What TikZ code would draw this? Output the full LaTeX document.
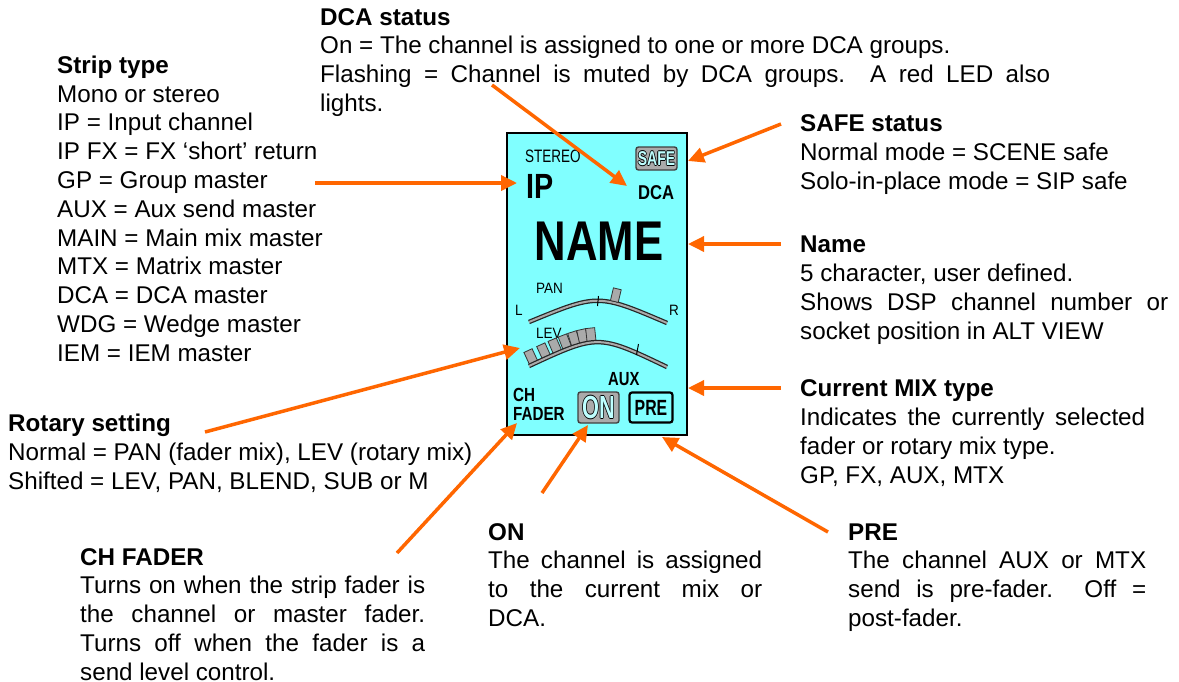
\documentclass[tikz,border=0pt]{standalone}
\usepackage{fontspec}
\setmainfont{Liberation Sans}
\usetikzlibrary{arrows.meta}
\definecolor{arrowor}{RGB}{255,102,0}
\definecolor{lcdcyan}{RGB}{128,255,255}
\definecolor{btngrey}{RGB}{170,170,170}
\definecolor{ltfill}{RGB}{190,255,255}
\newcommand\outl[1]{\leavevmode\rlap{\kern-0.8pt#1}\rlap{\kern0.8pt#1}\rlap{\raisebox{0.8pt}{#1}}\rlap{\raisebox{-0.8pt}{#1}}{\color{ltfill}#1}}
\newcommand\cond[3]{\scalebox{#1}[1]{\fontsize{#2}{#2}\selectfont #3}}
\tikzset{
  txt/.style={anchor=base west, align=left, inner sep=0pt, font=\fontsize{24.2}{28.8}\selectfont},
  arr/.style={draw=arrowor, line width=3.5pt, -{Triangle[length=16pt,width=15pt]}},
  lbl/.style={anchor=base west, inner sep=0pt},
  bar/.style={draw=black!80, fill=btngrey, line width=0.8pt, minimum width=9pt, minimum height=14pt, inner sep=0pt, sloped, anchor=south},
  btn/.style={draw=black!75, fill=btngrey, rounded corners=2.5pt, line width=1.4pt, inner sep=0pt},
}
\begin{document}
\begin{tikzpicture}[x=1pt,y=-1pt]
\useasboundingbox (0,0) rectangle (1179,681);

% ---------- text blocks (anchored at the baseline of their last line) ----------
\node[txt] (strip) at (57,361.3) {\textbf{Strip type}\\Mono or stereo\\IP = Input channel\\IP FX = FX ‘short’ return\\GP = Group master\\AUX = Aux send master\\MAIN = Main mix master\\MTX = Matrix master\\DCA = DCA master\\WDG = Wedge master\\IEM = IEM master};

\node[txt] (dcatxt) at (320,111.4) {\textbf{DCA status}\\On = The channel is assigned to one or more DCA groups.\\\makebox[730pt][s]{Flashing = Channel is muted by DCA groups.\ \ A red LED also}\\lights.};

\node[txt] (safetxt) at (800,189.3) {\textbf{SAFE status}\\Normal mode = SCENE safe\\Solo-in-place mode = SIP safe};

\node[txt] (nametxt) at (800,339.1) {\textbf{Name}\\5 character, user defined.\\\makebox[368pt][s]{Shows DSP channel number or}\\socket position in ALT VIEW};

\node[txt] (mixtxt) at (800,483.1) {\textbf{Current MIX type}\\\makebox[345pt][s]{Indicates the currently selected}\\fader or rotary mix type.\\GP, FX, AUX, MTX};

\node[txt] (rottxt) at (8,489.3) {\textbf{Rotary setting}\\Normal = PAN (fader mix), LEV (rotary mix)\\Shifted = LEV, PAN, BLEND, SUB or M};

\node[txt] (chtxt) at (80,680.2) {\textbf{CH FADER}\\\makebox[345pt][s]{Turns on when the strip fader is}\\\makebox[345pt][s]{the channel or master fader.}\\\makebox[345pt][s]{Turns off when the fader is a}\\send level control.};

\node[txt] (ontxt) at (488,626.4) {\textbf{ON}\\\makebox[274pt][s]{The channel is assigned}\\\makebox[274pt][s]{to the current mix or}\\DCA.};

\node[txt] (pretxt) at (848,626.4) {\textbf{PRE}\\\makebox[298pt][s]{The channel AUX or MTX}\\\makebox[298pt][s]{send is pre-fader.\ \ Off =}\\post-fader.};

% ---------- display ----------
\node[draw, line width=2.5pt, fill=lcdcyan, inner sep=0pt, outer sep=0pt, minimum width=180pt, minimum height=302pt, anchor=north west] (lcd) at (507,133) {};

\node[lbl] (stereo) at (525,162) {\cond{0.75}{18}{STEREO}};
\node[lbl] (ip) at (526,198) {\cond{0.82}{35}{\bfseries IP}};
\node[lbl] (dcal) at (638,199) {\cond{0.83}{20}{\bfseries DCA}};
\node[anchor=base, inner sep=0pt] (name) at (599,260) {\cond{0.78}{56}{\bfseries NAME}};
\node[btn, minimum width=41pt, minimum height=23pt] (safe) at (656.5,158.5) {\outl{\cond{0.7}{20}{\bfseries SAFE}}};

\node[lbl] (pan) at (536,293) {\cond{0.9}{15}{PAN}};
\node[lbl] (lL) at (515,315) {\cond{0.9}{15}{L}};
\node[lbl] (lR) at (669,315) {\cond{0.9}{15}{R}};
\node[lbl] (lev) at (536,338) {\cond{0.9}{15}{LEV}};

% PAN arc
\draw[line width=4.5pt, black!85] (529,322) .. controls (598,293.5) .. (667,323);
\draw[line width=2pt, btngrey] (529,322) .. controls (598,293.5) .. (667,323);
\draw[line width=1pt] (597.5,306) -- (598.5,296);
\path (529,322) .. controls (598,293.5) .. (667,323)
  node[bar, pos=0.65, minimum width=8pt, minimum height=13pt, yshift=1pt] (panmk) {};

% LEV arc with bars
\path (529,366) .. controls (598,334) .. (667,367)
  node[bar, pos=0.025] (b1) {}
  node[bar, pos=0.094] (b2) {}
  node[bar, pos=0.163] (b3) {}
  node[bar, pos=0.232] (b4) {}
  node[bar, pos=0.301] (b5) {}
  node[bar, pos=0.370] (b6) {}
  node[bar, pos=0.439] (b7) {};
\draw[line width=4.5pt, black!85] (529,366) .. controls (598,334) .. (667,367);
\draw[line width=2pt, btngrey] (529,366) .. controls (598,334) .. (667,367);
\draw[line width=1pt] (636.5,355) -- (638.5,344);

\node[lbl] (aux) at (608,385) {\cond{0.78}{19}{\bfseries AUX}};
\node[lbl, align=left, font=\fontsize{19}{19}\selectfont\bfseries] (chf) at (513,420) {\scalebox{0.8}[1]{CH}\\\scalebox{0.8}[1]{FADER}};
\node[btn, minimum width=41pt, minimum height=31pt] (on) at (598.5,407.5) {\outl{\cond{0.68}{32}{\bfseries ON}}};
\node[draw=black, fill=lcdcyan, rounded corners=2.5pt, line width=2.2pt, inner sep=0pt, minimum width=43pt, minimum height=30pt] (pre) at (651,407.5) {\cond{0.72}{22}{\bfseries PRE}};

% ---------- arrows ----------
\coordinate (s1) at (315,183);  \coordinate (e1) at (517,183);
\coordinate (s2) at (492,85);   \coordinate (e2) at (627,186);
\coordinate (s3) at (781,124);  \coordinate (e3) at (688,161);
\coordinate (s4) at (781,244);  \coordinate (e4) at (688,244);
\coordinate (s5) at (781,388);  \coordinate (e5) at (688,388);
\coordinate (s6) at (205,432);  \coordinate (e6) at (520,348);
\coordinate (s7) at (397,553);  \coordinate (e7) at (517,423);
\coordinate (s8) at (542,493);  \coordinate (e8) at (588,425);
\coordinate (s9) at (828,532);  \coordinate (e9) at (662,437);
\draw[arr] (s1) -- (e1);
\draw[arr] (s2) -- (e2);
\draw[arr] (s3) -- (e3);
\draw[arr] (s4) -- (e4);
\draw[arr] (s5) -- (e5);
\draw[arr] (s6) -- (e6);
\draw[arr] (s7) -- (e7);
\draw[arr] (s8) -- (e8);
\draw[arr] (s9) -- (e9);
\end{tikzpicture}
\end{document}
